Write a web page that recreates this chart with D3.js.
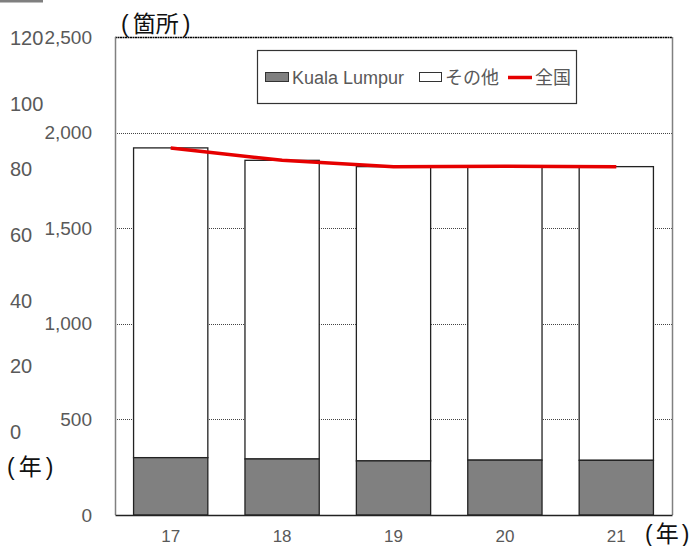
<!DOCTYPE html>
<html>
<head>
<meta charset="utf-8">
<script src="https://cdn.jsdelivr.net/npm/d3@7"></script>
<style>
  html, body { margin: 0; padding: 0; background: #fff; }
  svg { display: block; }
  text { font-family: "Liberation Sans", Arial, "Noto Sans CJK JP", sans-serif; }
</style>
</head>
<body>
<svg id="chart" width="694" height="546"></svg>
<script>
// Number of sites per year: Kuala Lumpur vs. the rest, with the national total
const years = ["17", "18", "19", "20", "21"];
const klValues = [300, 293, 283, 287, 286];
const otherValues = [1620, 1562, 1539, 1537, 1536];
const nationalValues = [1920, 1855, 1822, 1824, 1822];
const yTicks = [0, 500, 1000, 1500, 2000, 2500];
const auxTicks = [0, 20, 40, 60, 80, 100, 120];
const legendLabels = ["Kuala Lumpur", "その他", "全国"];

const svg = d3.select("#chart");
const margin = { left: 115, right: 672, top: 37, bottom: 515 };

const x = d3.scaleBand().domain(years).range([margin.left, margin.right]).paddingInner(1 / 3).paddingOuter(1 / 6);
const y = d3.scaleLinear().domain([0, 2500]).range([margin.bottom, margin.top]);
const yAux = d3.scaleLinear().domain([0, 120]).range([432, 38]);

// small grey tab at the top-left corner
svg.append("rect").attr("x", 0).attr("y", 0).attr("width", 43).attr("height", 2.5).attr("fill", "#7f7f7f");

// horizontal dotted grid
svg.append("g").selectAll("line").data(yTicks.filter(d => d > 0 && d < 2500)).join("line")
  .attr("x1", margin.left).attr("x2", margin.right)
  .attr("y1", d => Math.round(y(d)) + 0.5).attr("y2", d => Math.round(y(d)) + 0.5)
  .attr("stroke", "#444").attr("stroke-width", 1).attr("stroke-dasharray", "1,1");

// plot frame: dotted top, grey right
svg.append("line").attr("x1", margin.left).attr("x2", margin.right)
  .attr("y1", margin.top + 0.5).attr("y2", margin.top + 0.5)
  .attr("stroke", "#000").attr("stroke-width", 1.4).attr("stroke-dasharray", "2,0.5");
svg.append("line").attr("x1", margin.right + 0.5).attr("x2", margin.right + 0.5)
  .attr("y1", margin.top).attr("y2", margin.bottom)
  .attr("stroke", "#808080").attr("stroke-width", 1.5);

// stacked bars
const stacks = years.map((yr, i) => ({ yr, kl: klValues[i], other: otherValues[i] }));
const bars = svg.append("g");
bars.selectAll("rect.other").data(stacks).join("rect").attr("class", "other")
  .attr("x", d => x(d.yr)).attr("width", x.bandwidth())
  .attr("y", d => y(d.kl + d.other)).attr("height", d => y(d.kl) - y(d.kl + d.other))
  .attr("fill", "#fff").attr("stroke", "#222").attr("stroke-width", 1.3);
bars.selectAll("rect.kl").data(stacks).join("rect").attr("class", "kl")
  .attr("x", d => x(d.yr)).attr("width", x.bandwidth())
  .attr("y", d => y(d.kl)).attr("height", d => y(0) - y(d.kl))
  .attr("fill", "#808080").attr("stroke", "#222").attr("stroke-width", 1.3);

// national total line
const line = d3.line().x((d, i) => x(years[i]) + x.bandwidth() / 2).y(d => y(d));
svg.append("path").datum(nationalValues).attr("d", line)
  .attr("fill", "none").attr("stroke", "#e60000").attr("stroke-width", 3.5);

// left axis line and bottom axis
svg.append("line").attr("x1", margin.left + 0.5).attr("x2", margin.left + 0.5)
  .attr("y1", margin.top).attr("y2", margin.bottom)
  .attr("stroke", "#808080").attr("stroke-width", 1.5);

const xAxis = svg.append("g").attr("transform", `translate(0,${margin.bottom})`)
  .call(d3.axisBottom(x).tickSize(0).tickPadding(15));
xAxis.select(".domain").attr("stroke", "#222").attr("stroke-width", 1.5);
xAxis.selectAll("text").attr("font-size", 17).attr("fill", "#595959")
  .attr("font-family", "'Liberation Sans', Arial, sans-serif");

const yAxis = svg.append("g").attr("transform", `translate(${margin.left},0)`)
  .call(d3.axisLeft(y).tickValues(yTicks).tickFormat(d3.format(",")).tickSize(0).tickPadding(23));
yAxis.select(".domain").remove();
yAxis.selectAll("text").attr("font-size", 19).attr("fill", "#595959")
  .attr("font-family", "'Liberation Sans', Arial, sans-serif");

const auxAxis = svg.append("g").attr("transform", "translate(10,0)")
  .call(d3.axisRight(yAux).tickValues(auxTicks).tickSize(0).tickPadding(0));
auxAxis.select(".domain").remove();
auxAxis.selectAll("text").attr("font-size", 20).attr("fill", "#595959")
  .attr("font-family", "'Liberation Sans', Arial, sans-serif");

// unit labels: parenthesised, with a little air around the brackets
function unitLabel(px, py, word, gap) {
  const t = svg.append("text").attr("x", px).attr("y", py)
    .attr("font-size", 23).attr("fill", "#111")
    .attr("font-family", "'Noto Sans CJK JP', sans-serif");
  t.append("tspan").attr("font-weight", 300).text("(");
  t.append("tspan").attr("dx", gap).text(word);
  t.append("tspan").attr("dx", gap).attr("font-weight", 300).text(")");
  return t;
}
unitLabel(121, 32, "箇所", 4);
unitLabel(7, 475, "年", 4);
unitLabel(645, 542, "年", 3);

// legend
const lg = svg.append("g");
lg.append("rect").attr("x", 257.5).attr("y", 50.5).attr("width", 319).attr("height", 53)
  .attr("fill", "#fff").attr("stroke", "#333").attr("stroke-width", 1.2);
lg.append("rect").attr("x", 265.5).attr("y", 72.5).attr("width", 23).attr("height", 9)
  .attr("fill", "#808080").attr("stroke", "#333");
lg.append("text").attr("x", 292).attr("y", 84).attr("font-size", 18).attr("fill", "#595959").text(legendLabels[0]);
lg.append("rect").attr("x", 419.5).attr("y", 72.5).attr("width", 22).attr("height", 9)
  .attr("fill", "#fff").attr("stroke", "#333");
lg.append("text").attr("x", 445).attr("y", 84).attr("font-size", 18).attr("fill", "#595959").text(legendLabels[1]);
lg.append("line").attr("x1", 508).attr("x2", 532).attr("y1", 77.5).attr("y2", 77.5)
  .attr("stroke", "#e60000").attr("stroke-width", 3.5);
lg.append("text").attr("x", 535).attr("y", 84).attr("font-size", 18).attr("fill", "#595959").text(legendLabels[2]);
</script>
</body>
</html>
